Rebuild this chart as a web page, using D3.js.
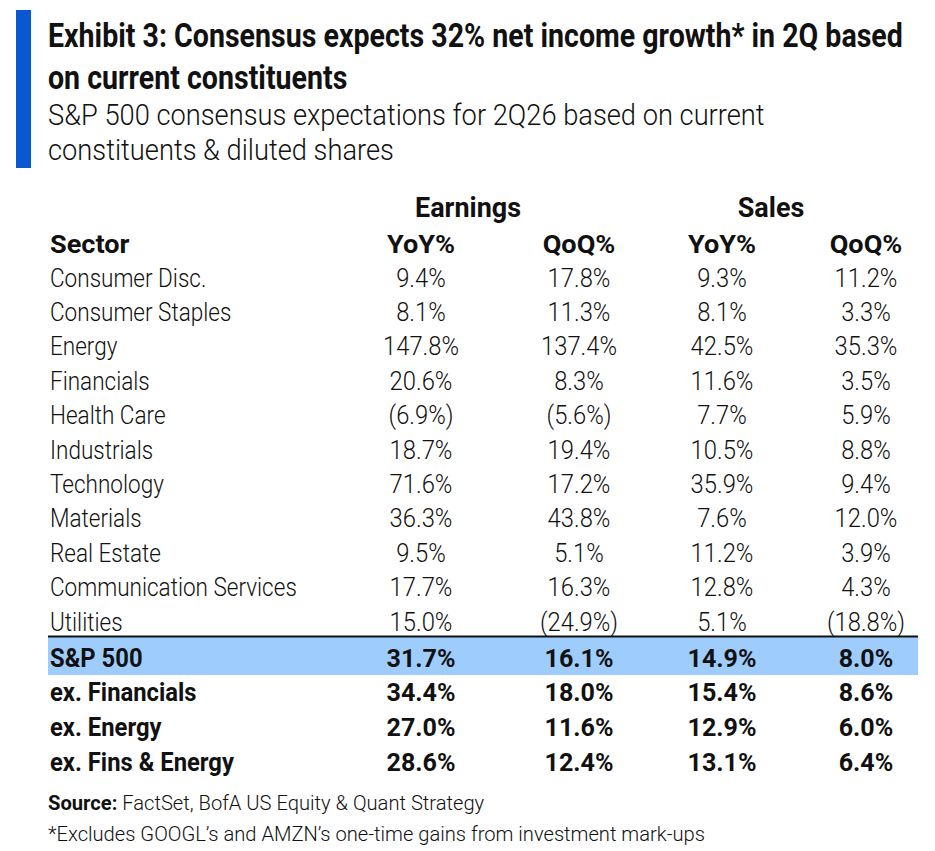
<!DOCTYPE html>
<html>
<head>
<meta charset="utf-8">
<script src="https://cdn.jsdelivr.net/npm/d3@7"></script>
<style>
  html, body { margin: 0; padding: 0; background: #fff; }
  svg text { font-family: Roboto, 'Noto Sans', sans-serif; fill: #111; }
</style>
</head>
<body>
<svg id="chart" width="935" height="851"></svg>
<script>
const titleLines = ["Exhibit 3: Consensus expects 32% net income growth* in 2Q based", "on current constituents"];
const subtitleLines = ["S&P 500 consensus expectations for 2Q26 based on current", "constituents & diluted shares"];
const groups = ["Earnings", "Sales"];
const columns = ["YoY%", "QoQ%", "YoY%", "QoQ%"];
const sectors = ["Consumer Disc.", "Consumer Staples", "Energy", "Financials", "Health Care", "Industrials", "Technology", "Materials", "Real Estate", "Communication Services", "Utilities"];
const earnYoY = [9.4, 8.1, 147.8, 20.6, -6.9, 18.7, 71.6, 36.3, 9.5, 17.7, 15.0];
const earnQoQ = [17.8, 11.3, 137.4, 8.3, -5.6, 19.4, 17.2, 43.8, 5.1, 16.3, -24.9];
const salesYoY = [9.3, 8.1, 42.5, 11.6, 7.7, 10.5, 35.9, 7.6, 11.2, 12.8, 5.1];
const salesQoQ = [11.2, 3.3, 35.3, 3.5, 5.9, 8.8, 9.4, 12.0, 3.9, 4.3, -18.8];
const aggregates = ["S&P 500", "ex. Financials", "ex. Energy", "ex. Fins & Energy"];
const aggEarnYoY = [31.7, 34.4, 27.0, 28.6];
const aggEarnQoQ = [16.1, 18.0, 11.6, 12.4];
const aggSalesYoY = [14.9, 15.4, 12.9, 13.1];
const aggSalesQoQ = [8.0, 8.6, 6.0, 6.4];
const sourceText = ["Source:", " FactSet, BofA US Equity & Quant Strategy"];
const footnote = "*Excludes GOOGL\u2019s and AMZN\u2019s one-time gains from investment mark-ups";

const fmt = v => v < 0 ? "(" + Math.abs(v).toFixed(1) + "%)" : v.toFixed(1) + "%";

const svg = d3.select("#chart");

function measure(str, size, weight) {
  const t = svg.append("text").attr("font-size", size).attr("font-weight", weight).text(str);
  const w = t.node().getComputedTextLength();
  t.remove();
  return w;
}
// text styles: size, weight, and horizontal condensing fitted to a sample width from the reference
function style(size, weight, sample, target) {
  return { size, weight, sx: target / measure(sample, size, weight) };
}
const S = {
  title: style(33, 700, titleLines[0], 855),
  subtitle: style(30, 300, subtitleLines[0], 717),
  group: style(28, 700, "Earnings", 106),
  head: style(26.5, 700, "YoY%", 68),
  body: style(26.5, 300, "Communication Services", 247),
  value: style(26.5, 300, "147.8%", 76),
  bold: style(26.5, 700, "ex. Fins & Energy", 184),
  boldValue: style(26.5, 700, "31.7%", 69),
  foot: style(21, 300, footnote, 657)
};

function txt(parent, st, x, y, str, anchor) {
  return parent.append("text")
    .attr("transform", `translate(${x},${y}) scale(${st.sx},1)`)
    .attr("font-size", st.size).attr("font-weight", st.weight)
    .attr("text-anchor", anchor || "start")
    .text(str);
}

// accent bar
svg.append("rect").attr("x", 16).attr("y", 10).attr("width", 15).attr("height", 158).attr("fill", "#0a57d2");

// title & subtitle
titleLines.forEach((d, i) => txt(svg, S.title, 48, 47 + i * 42, d));
subtitleLines.forEach((d, i) => txt(svg, S.subtitle, 48, 125 + i * 35, d));

// scales
const colX = d3.scaleOrdinal().domain([0, 1, 2, 3]).range([421, 579, 722, 866]);
const groupX = d3.scaleOrdinal().domain(groups).range([468, 771]);
const rowY = d3.scalePoint().domain(sectors).range([277, 621]);
const aggY = d3.scalePoint().domain(aggregates).range([657, 761]);
const base = 9.5;

// group headers
groups.forEach(g => txt(svg, S.group, groupX(g), 207 + base, g, "middle"));

// column headers
txt(svg, S.head, 50, 243 + base, "Sector");
columns.forEach((c, i) => txt(svg, S.head, colX(i), 243 + base, c, "middle"));

// highlight row
const hl = aggregates[0];
svg.append("rect").attr("x", 48).attr("y", aggY(hl) - 20).attr("width", 870).attr("height", 38).attr("fill", "#9ecdfd");
svg.append("line").attr("x1", 48).attr("x2", 918).attr("y1", aggY(hl) - 20.5).attr("y2", aggY(hl) - 20.5)
  .attr("stroke", "#111").attr("stroke-width", 2);

// sector rows
const sectorCols = [earnYoY, earnQoQ, salesYoY, salesQoQ];
sectors.forEach((s, i) => {
  const y = rowY(s) + base;
  txt(svg, S.body, 50, y, s);
  sectorCols.forEach((arr, ci) => txt(svg, S.value, colX(ci), y, fmt(arr[i]), "middle"));
});

// aggregate rows
const aggCols = [aggEarnYoY, aggEarnQoQ, aggSalesYoY, aggSalesQoQ];
aggregates.forEach((a, i) => {
  const y = aggY(a) + base;
  txt(svg, S.bold, 50, y, a);
  aggCols.forEach((arr, ci) => txt(svg, S.boldValue, colX(ci), y, fmt(arr[i]), "middle"));
});

// footer
const src = txt(svg, S.foot, 48, 810, "");
src.append("tspan").attr("font-weight", 700).text(sourceText[0]);
src.append("tspan").attr("font-weight", 300).text(sourceText[1]);
txt(svg, S.foot, 48, 841, footnote);
</script>
</body>
</html>
